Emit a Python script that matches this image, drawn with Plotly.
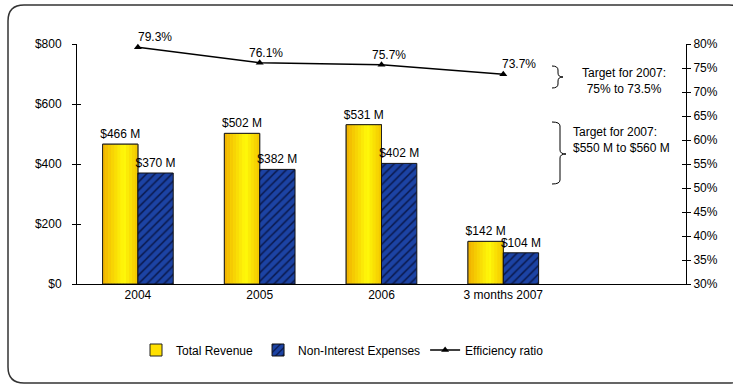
import plotly.graph_objects as go

categories = ["2004", "2005", "2006", "3 months 2007"]
total_revenue = [466, 502, 531, 142]
non_interest_expenses = [370, 382, 402, 104]
efficiency_ratio = [79.3, 76.1, 75.7, 73.7]
revenue_labels = ["$466 M", "$502 M", "$531 M", "$142 M"]
expense_labels = ["$370 M", "$382 M", "$402 M", "$104 M"]
ratio_labels = ["79.3%", "76.1%", "75.7%", "73.7%"]
left_ticks = [0, 200, 400, 600, 800]
right_ticks = [30, 35, 40, 45, 50, 55, 60, 65, 70, 75, 80]

W, H = 733, 385
L, R, T, B = 77, 47, 44, 101
PW, PH = W - L - R, H - T - B


def px(x):
    return (x - L) / PW


def py(y):
    return (H - B - y) / PH


FONT = "Liberation Sans, Arial, sans-serif"
axis_font = dict(family=FONT, size=12, color="black")
BW = 0.29

fig = go.Figure()


def lerp(c1, c2, t):
    return "#" + "".join(f"{int(round(a + (b - a) * t)):02x}" for a, b in zip(c1, c2))


LEFT_C, MID_C, RIGHT_C = (240, 176, 0), (255, 250, 10), (242, 196, 0)
N = 12
# legend entry (drawn first, full bar)
fig.add_trace(go.Bar(
    x=categories, y=total_revenue, name="Total Revenue",
    offset=-BW, width=BW, constraintext="none",
    marker=dict(color="#FFE000", line=dict(color="#222", width=1)),
))
for i in range(N):
    t = (i + 0.5) / N
    col = lerp(LEFT_C, MID_C, t / 0.6) if t < 0.6 else lerp(MID_C, RIGHT_C, (t - 0.6) / 0.4)
    fig.add_trace(go.Bar(
        x=categories, y=total_revenue, name="Total Revenue",
        offset=-BW + i * BW / N, width=BW / N * 1.05, showlegend=False,
        hoverinfo="skip", marker=dict(color=col, line=dict(width=0)),
    ))
# outline + labels on top
fig.add_trace(go.Bar(
    x=categories, y=total_revenue, name="Total Revenue",
    offset=-BW, width=BW, showlegend=False, constraintext="none",
    marker=dict(color="rgba(0,0,0,0)", line=dict(color="#222", width=1)),
    text=revenue_labels, textposition="outside",
    textfont=dict(family=FONT, size=12, color="black"), cliponaxis=False,
))

fig.add_trace(go.Bar(
    x=categories, y=non_interest_expenses, name="Non-Interest Expenses",
    offset=0, width=BW, constraintext="none",
    marker=dict(color="#0b1c55", line=dict(color="#111", width=1),
                pattern=dict(shape="/", fgcolor="#2d6af4", bgcolor="#0b1c55",
                             size=6, solidity=0.7)),
    text=expense_labels, textposition="outside",
    textfont=dict(family=FONT, size=12, color="black"), cliponaxis=False,
))

fig.add_trace(go.Scatter(
    x=categories, y=efficiency_ratio, name="Efficiency ratio", yaxis="y2",
    mode="lines+markers",
    line=dict(color="black", width=1.5),
    marker=dict(symbol="triangle-up", size=7, color="black"),
    cliponaxis=False,
))

# helper traces for crossing ticks
fig.add_trace(go.Scatter(x=[], y=[], yaxis="y3", showlegend=False))
fig.add_trace(go.Scatter(x=[], y=[], yaxis="y4", showlegend=False))

# frame (rounded rect)
x0, y0, x1, y1, r = 8, 5, 745, 383, 16
rx, ry = r / PW, r / PH
frame = (f"M {px(x0)+rx},{py(y0)} L {px(x1)-rx},{py(y0)} "
         f"Q {px(x1)},{py(y0)} {px(x1)},{py(y0)-ry} "
         f"L {px(x1)},{py(y1)+ry} Q {px(x1)},{py(y1)} {px(x1)-rx},{py(y1)} "
         f"L {px(x0)+rx},{py(y1)} Q {px(x0)},{py(y1)} {px(x0)},{py(y1)+ry} "
         f"L {px(x0)},{py(y0)-ry} Q {px(x0)},{py(y0)} {px(x0)+rx},{py(y0)} Z")


def brace(xl, xm, xt, ytop, ymid, ybot):
    c = 4
    return (f"M {px(xl)},{py(ytop)} Q {px(xm)},{py(ytop)} {px(xm)},{py(ytop+c)} "
            f"L {px(xm)},{py(ymid-c)} Q {px(xm)},{py(ymid)} {px(xt)},{py(ymid)} "
            f"Q {px(xm)},{py(ymid)} {px(xm)},{py(ymid+c)} "
            f"L {px(xm)},{py(ybot-c)} Q {px(xm)},{py(ybot)} {px(xl)},{py(ybot)}")


shapes = [
    dict(type="path", path=frame, xref="paper", yref="paper",
         line=dict(color="#333", width=1.5), layer="below"),
    dict(type="path", path=brace(552, 558, 563, 66, 77, 88), xref="paper", yref="paper",
         line=dict(color="black", width=1)),
    dict(type="path", path=brace(552, 560, 566, 122, 154, 184), xref="paper", yref="paper",
         line=dict(color="black", width=1)),
]

annotations = [
    dict(text="Target for 2007:<br>75% to 73.5%", x=px(624), y=py(81), xref="paper", yref="paper",
         showarrow=False, align="center", xanchor="center", yanchor="middle", font=axis_font),
    dict(text="Target for 2007:<br>$550 M to $560 M", x=px(571), y=py(140), xref="paper", yref="paper",
         showarrow=False, align="left", xanchor="left", yanchor="middle", font=axis_font),
]
# efficiency ratio labels at the data points (x by category index)
label_shift = [-2, -13, -12, -3]
for idx, (val, lab, sh) in enumerate(zip(efficiency_ratio, ratio_labels, label_shift)):
    annotations.append(dict(text=lab, x=idx, y=val, xref="x", yref="y2", showarrow=False,
                            xanchor="left", yanchor="bottom", xshift=sh, yshift=1,
                            font=axis_font))

fig.update_layout(
    width=W, height=H, margin=dict(l=L, r=R, t=T, b=B),
    paper_bgcolor="white", plot_bgcolor="white",
    barmode="overlay", font=axis_font,
    xaxis=dict(type="category", categoryorder="array", categoryarray=categories,
               range=[-0.5, 4.5], showline=True, linecolor="black", linewidth=1,
               ticks="", showgrid=False, tickfont=axis_font, zeroline=False),
    yaxis=dict(range=[0, 800], tickvals=left_ticks, ticktext=[f"${v}" for v in left_ticks],
               showline=True, linecolor="black", linewidth=1, ticks="outside", ticklen=4,
               tickcolor="black", showgrid=False, zeroline=False, tickfont=axis_font,
               ticklabelstandoff=8),
    yaxis2=dict(range=[30, 80], tickvals=right_ticks, ticktext=[f"{v}%" for v in right_ticks],
                overlaying="y", side="right", showline=True, linecolor="black", linewidth=1,
                ticks="outside", ticklen=4, tickcolor="black", showgrid=False,
                zeroline=False, tickfont=axis_font),
    yaxis3=dict(range=[0, 800], tickvals=left_ticks, overlaying="y", side="left",
                showticklabels=False, ticks="inside", ticklen=4, tickcolor="black",
                showline=False, showgrid=False, zeroline=False),
    yaxis4=dict(range=[30, 80], tickvals=right_ticks, overlaying="y", side="right",
                showticklabels=False, ticks="inside", ticklen=4, tickcolor="black",
                showline=False, showgrid=False, zeroline=False),
    legend=dict(orientation="h", x=px(136), y=py(350), xanchor="left", yanchor="middle",
                font=axis_font, bgcolor="rgba(0,0,0,0)", traceorder="normal"),
    shapes=shapes, annotations=annotations,
    showlegend=True,
)

fig.write_html("out.html", config={"displayModeBar": False},
               post_script="document.body.style.margin='0';")
